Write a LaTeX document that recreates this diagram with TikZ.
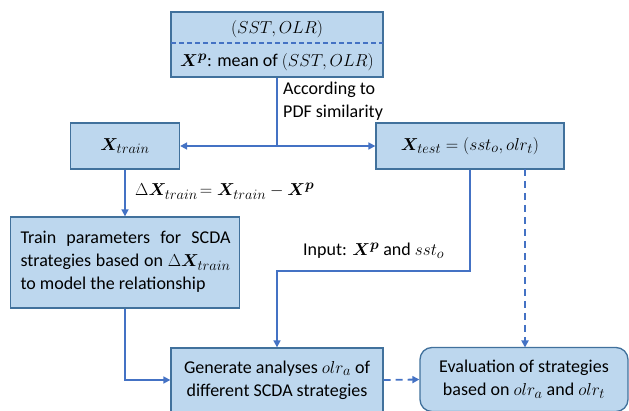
\documentclass[tikz,border=0pt]{standalone}
\usepackage{amsmath}
\usepackage{bm}
\usepackage{fontspec}
\setmainfont{Carlito}
\DeclareMathSizes{18}{19}{13.5}{10.5}
\usetikzlibrary{arrows.meta}
\definecolor{boxfill}{HTML}{BDD7EE}
\definecolor{boxline}{HTML}{41719C}
\definecolor{arr}{HTML}{4472C4}
\begin{document}
\begin{tikzpicture}[x=1pt,y=-1pt,
  font=\fontsize{18}{23}\selectfont,
  box/.style={draw=boxline, fill=boxfill, line width=1.3pt, inner sep=0pt, align=center},
  conn/.style={draw=arr, line width=1.6pt, -{Triangle[length=7pt,width=7pt]}},
  plain/.style={draw=arr, line width=1.6pt},
  dconn/.style={draw=arr, line width=1.8pt, dash pattern=on 7pt off 5pt, -{Triangle[length=7pt,width=7pt]}},
  lbl/.style={inner sep=0pt, align=left}]
\useasboundingbox (0,0) rectangle (629,411);
% boxes
\node[box, minimum width=212pt, minimum height=65pt] (top) at (277,44.5) {};
\draw[arr, line width=1.2pt, dash pattern=on 5pt off 3pt] (171,43) -- (383,43);
\node[lbl] (t1) at (277,29) {$(SST,OLR)$};
\node[lbl] (t2) at (277,62) {$\bm{X}^{\bm{p}}$: mean of $(SST,OLR)$};
\node[box, minimum width=109pt, minimum height=46pt] (xtrain) at (125,146) {$\bm{X}_{train}$};
\node[box, minimum width=188pt, minimum height=46pt] (xtest) at (470,146) {$\bm{X}_{test}=(sst_o,olr_t)$};
\node[box, minimum width=229pt, minimum height=91pt] (train) at (125,262.5) {};
\node[inner sep=0pt, text width=210pt, align=justify] (traintxt) at (125.5,262)
  {\hyphenpenalty=10000 Train parameters for SCDA strategies based on $\Delta\bm{X}_{train}$ to model the relationship};
\node[box, minimum width=212pt, minimum height=64pt] (gen) at (277,380)
  {Generate analyses $olr_a$ of\\different SCDA strategies};
\node[box, rounded corners=12pt, minimum width=208pt, minimum height=64pt] (eval) at (524,379.5)
  {Evaluation of strategies\\based on $olr_a$ and $olr_t$};
% connectors
\coordinate (br) at (277,146);
\draw[plain] (top.south) -- (br);
\draw[conn] (br) -- (xtrain.east);
\draw[conn] (br) -- (xtest.west);
\node[lbl, anchor=west] (pdf) at (283,101) {According to\\PDF similarity};
\draw[conn] (xtrain.south) -- (train.north);
\node[lbl, anchor=west] (dl) at (135,191) {$\Delta\bm{X}_{train}\!=\bm{X}_{train}-\bm{X}^{\bm{p}}$};
\draw[conn] (train.south) |- (gen.west);
\coordinate (in1) at (470,271);
\draw[conn] (xtest.south) -- (in1) -| (gen.north);
\node[lbl, anchor=west] (inl) at (303,251) {Input: $\bm{X}^{\bm{p}}$ and $sst_o$};
\draw[dconn] (525,169) -- (525,347.5);
\draw[dconn] (gen.east) -- (eval.west);
\end{tikzpicture}
\end{document}
